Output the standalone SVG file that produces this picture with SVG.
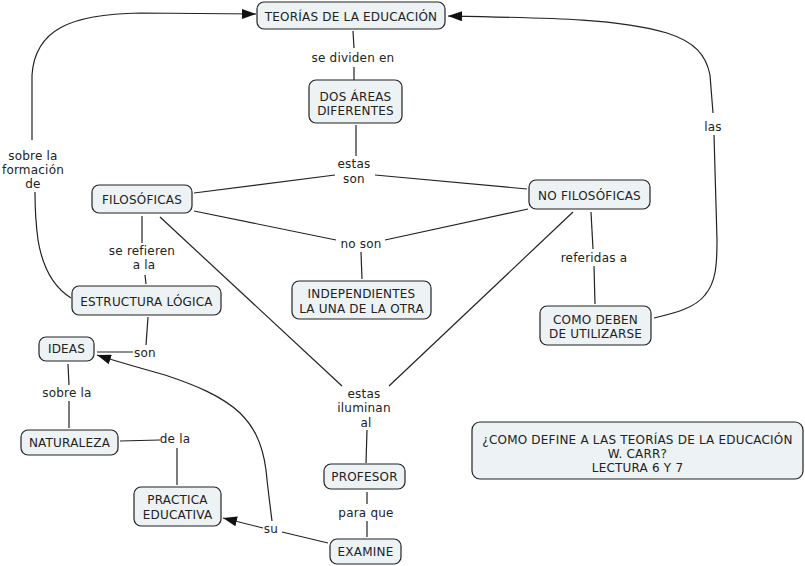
<svg xmlns="http://www.w3.org/2000/svg" width="805" height="566" viewBox="0 0 805 566">
<defs>
<style>
.n rect{fill:#edf2f5;stroke:#222;stroke-width:1.2}
text{font-family:"DejaVu Sans",Verdana,sans-serif;font-size:12px;letter-spacing:0.2px;fill:#222;text-anchor:middle}
.c path{fill:none;stroke:#222;stroke-width:1.2}
</style>
<marker id="ar" viewBox="0 0 14 10" refX="14" refY="5" markerWidth="14" markerHeight="10" markerUnits="userSpaceOnUse" orient="auto">
<path d="M0,0L14,5L0,10z" fill="#111"/>
</marker>
</defs>
<rect width="805" height="566" fill="#fff"/>
<g id="connectors" class="c">
<path d="M353,31L354,48"/>
<path d="M354,67L354,80"/>
<path d="M356,125L356,156"/>
<path d="M335,175L194,193"/>
<path d="M375,175L527,189"/>
<path d="M194,211L336,240"/>
<path d="M385,240L528,209"/>
<path d="M361,252L362,279"/>
<path d="M142,216L142,243"/>
<path d="M145,275L146,284"/>
<path d="M71,298C55,288 43,270 38,240C36,225 35,205 35,192"/>
<path d="M32,140L32,75C35,30 70,14 140,13C180,13 220,14 256,14" marker-end="url(#ar)"/>
<path d="M160,217L342,386"/>
<path d="M573,212L389,386"/>
<path d="M367,430L366,463"/>
<path d="M367,492L367,504"/>
<path d="M367,521L367,537"/>
<path d="M328,543L282,532"/>
<path d="M263,528L223,518" marker-end="url(#ar)"/>
<path d="M272,521C270,505 268,490 266,470C262,440 252,425 240,413C222,396 195,385 165,375C140,368 115,361 97,355" marker-end="url(#ar)"/>
<path d="M148,317L146,345"/>
<path d="M133,352L97,352"/>
<path d="M68,364L69,385"/>
<path d="M69,401L69,428"/>
<path d="M120,441L160,440"/>
<path d="M177,448L177,485"/>
<path d="M591,212L593,249"/>
<path d="M594,266L595,304"/>
<path d="M654,318C675,313 695,308 705,295C716,282 717,265 717,240L714,135"/>
<path d="M713,113L710,75C706,55 695,42 667,33C620,19 560,18 448,16" marker-end="url(#ar)"/>
</g>
<g id="labels">
<text x="353" y="62">se dividen en</text>
<text x="354" y="168">estas</text>
<text x="354" y="183">son</text>
<text x="361" y="248">no son</text>
<text x="142" y="255">se refieren</text>
<text x="144" y="269">a la</text>
<text x="145" y="357">son</text>
<text x="33" y="160">sobre la</text>
<text x="33" y="174">formación</text>
<text x="33" y="188">de</text>
<text x="713" y="131">las</text>
<text x="594" y="262">referidas a</text>
<text x="67" y="397">sobre la</text>
<text x="175" y="443">de la</text>
<text x="364" y="398">estas</text>
<text x="364" y="412">iluminan</text>
<text x="366" y="427">al</text>
<text x="366" y="517">para que</text>
<text x="271" y="533">su</text>
</g>
<g id="n-teorias" class="n"><rect x="257" y="2" width="188" height="27" rx="7"/><text x="351" y="21">TEORÍAS DE LA EDUCACIÓN</text></g>
<g id="n-dos" class="n"><rect x="309" y="80" width="93" height="43" rx="7"/><text x="355.5" y="101">DOS ÁREAS</text><text x="355.5" y="115">DIFERENTES</text></g>
<g id="n-filo" class="n"><rect x="92" y="185" width="100" height="28" rx="7"/><text x="142" y="204">FILOSÓFICAS</text></g>
<g id="n-nofilo" class="n"><rect x="529" y="180" width="121" height="29" rx="7"/><text x="589.5" y="200">NO FILOSÓFICAS</text></g>
<g id="n-como" class="n"><rect x="540" y="306" width="111" height="39" rx="7"/><text x="595.5" y="324">COMO DEBEN</text><text x="595.5" y="338">DE UTILIZARSE</text></g>
<g id="n-indep" class="n"><rect x="292" y="281" width="139" height="38" rx="7"/><text x="361.5" y="298">INDEPENDIENTES</text><text x="361.5" y="313">LA UNA DE LA OTRA</text></g>
<g id="n-estructura" class="n"><rect x="72" y="286" width="149" height="29" rx="7"/><text x="146.5" y="306">ESTRUCTURA LÓGICA</text></g>
<g id="n-ideas" class="n"><rect x="39" y="337" width="55" height="24" rx="7"/><text x="66.5" y="353">IDEAS</text></g>
<g id="n-naturaleza" class="n"><rect x="21" y="430" width="97" height="25" rx="7"/><text x="69.5" y="447">NATURALEZA</text></g>
<g id="n-practica" class="n"><rect x="134" y="487" width="87" height="39" rx="7"/><text x="177.5" y="504">PRACTICA</text><text x="177.5" y="519">EDUCATIVA</text></g>
<g id="n-profesor" class="n"><rect x="324" y="464" width="81" height="25" rx="7"/><text x="364.5" y="481">PROFESOR</text></g>
<g id="n-examine" class="n"><rect x="330" y="539" width="71" height="25" rx="7"/><text x="365.5" y="556">EXAMINE</text></g>
<g id="n-titulo" class="n"><rect x="472" y="422" width="331" height="57" rx="8"/><text x="637.5" y="444">¿COMO DEFINE A LAS TEORÍAS DE LA EDUCACIÓN</text><text x="637.5" y="458">W. CARR?</text><text x="637.5" y="472">LECTURA 6 Y 7</text></g>
</svg>
